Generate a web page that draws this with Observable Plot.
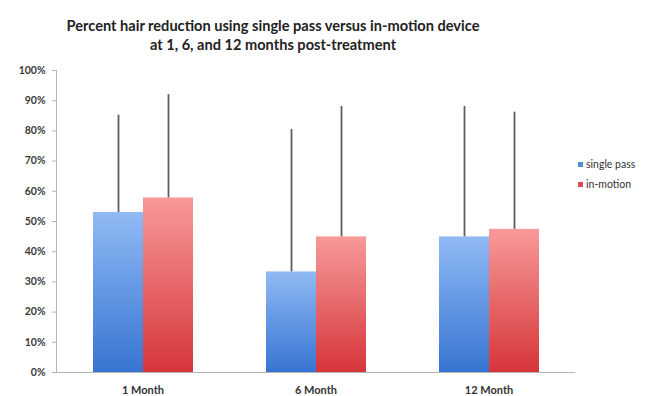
<!DOCTYPE html>
<html>
<head>
<meta charset="utf-8">
<script src="https://cdn.jsdelivr.net/npm/d3@7"></script>
<script src="https://cdn.jsdelivr.net/npm/@observablehq/plot@0.6"></script>
<style>
  html, body { margin: 0; padding: 0; background: #fff; }
  #wrap { position: relative; width: 655px; height: 396px; overflow: hidden; font-family: Lato, "Open Sans", sans-serif; }
  #title { position: absolute; left: 0; top: 16px; width: 546px; text-align: center; font-weight: bold; font-size: 14.6px; line-height: 19px; color: #222; }
  #chart { position: absolute; left: 0; top: 60px; }
  #legend { position: absolute; left: 578px; top: 154px; font-size: 10.5px; color: #333; line-height: 20px; }
  #legend .sw { display: inline-block; width: 5px; height: 5px; margin-right: 3px; vertical-align: 1px; }
</style>
</head>
<body>
<div id="wrap">
  <div id="title">Percent hair reduction using single pass versus in-motion device<br>at 1, 6, and 12 months post-treatment</div>
  <div id="chart"></div>
  <div id="legend"></div>
</div>
<script>
const months = ["1 Month", "6 Month", "12 Month"];
const series = ["single pass", "in-motion"];
const singlePass = [0.53, 0.333, 0.449];
const inMotion = [0.578, 0.449, 0.474];
const singlePassUpper = [0.852, 0.805, 0.881];
const inMotionUpper = [0.92, 0.881, 0.862];
const yTicks = [0, 0.1, 0.2, 0.3, 0.4, 0.5, 0.6, 0.7, 0.8, 0.9, 1.0];

const seriesFill = ["url(#gBlue)", "url(#gRed)"];
const legendColors = ["#4f8fd8", "#e04a4c"];

const data = [];
months.forEach((m, i) => {
  data.push({month: m, series: series[0], value: singlePass[i], upper: singlePassUpper[i]});
  data.push({month: m, series: series[1], value: inMotion[i], upper: inMotionUpper[i]});
});

const plot = Plot.plot({
  width: 655,
  height: 336,
  marginTop: 10,
  marginBottom: 24,
  marginLeft: 55,
  marginRight: 80,
  style: {fontFamily: "Lato, 'Open Sans', sans-serif", background: "transparent"},
  fx: {domain: months, padding: 0, label: null},
  x: {domain: series, paddingInner: 0, paddingOuter: 0.73, axis: null},
  y: {domain: [0, 1], label: null},
  color: {domain: series, range: seriesFill},
  marks: [
    Plot.barY(data, {fx: "month", x: "series", y: "value", fill: "series"}),
    Plot.ruleX(data, {fx: "month", x: "series", y1: "value", y2: "upper", stroke: "#5e5e5e", strokeWidth: 1.8}),
    Plot.ruleY([0], {stroke: "#b5b5b5", strokeWidth: 1}),
    Plot.frame({anchor: "left", facetAnchor: "left", stroke: "#b5b5b5"}),
    Plot.axisY({ticks: yTicks, tickFormat: d => Math.round(d * 100) + "%", tickSize: 4, tickPadding: 7, stroke: "#b5b5b5", fill: "#3a3a3a", fontSize: 10.5, fontWeight: "bold", label: null}),
    Plot.axisFx({anchor: "bottom", tickSize: 0, tickPadding: 14, fontSize: 11, fontWeight: "bold", fill: "#333", label: null})
  ]
});

// gradient definitions referenced by the bar fills
const svg = d3.select(plot);
const defs = svg.insert("defs", ":first-child");
const grads = [
  {id: "gBlue", top: "#90baf4", bottom: "#3774d2"},
  {id: "gRed", top: "#f79a98", bottom: "#d6353a"}
];
grads.forEach(g => {
  const lg = defs.append("linearGradient").attr("id", g.id).attr("x1", 0).attr("y1", 0).attr("x2", 0).attr("y2", 1);
  lg.append("stop").attr("offset", "0%").attr("stop-color", g.top);
  lg.append("stop").attr("offset", "100%").attr("stop-color", g.bottom);
});

document.getElementById("chart").appendChild(plot);

const legend = document.getElementById("legend");
series.forEach((s, i) => {
  const row = document.createElement("div");
  row.innerHTML = `<span class="sw" style="background:${legendColors[i]}"></span>${s}`;
  legend.appendChild(row);
});
</script>
</body>
</html>
